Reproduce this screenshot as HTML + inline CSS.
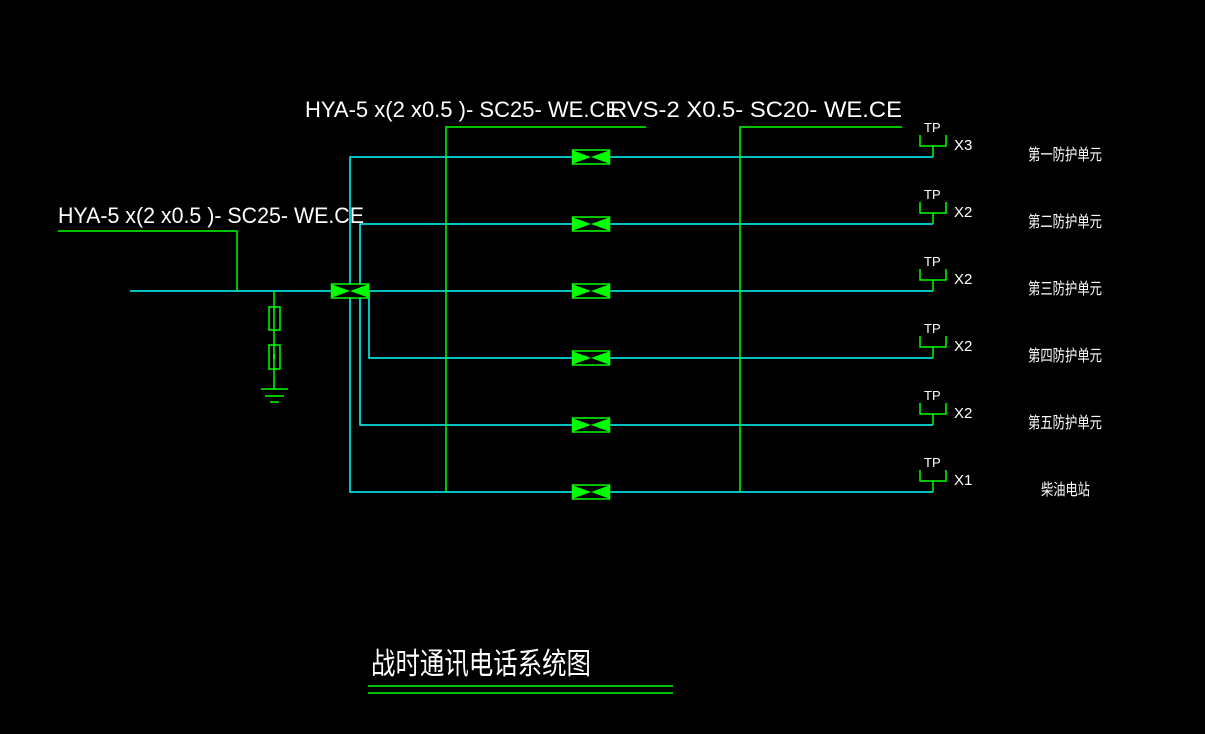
<!DOCTYPE html>
<html><head><meta charset="utf-8"><style>
html,body{margin:0;padding:0;background:#000;width:1205px;height:734px;overflow:hidden}
svg text{font-family:"Liberation Sans","Noto Sans CJK SC",sans-serif;fill:#fff}
</style></head><body>
<svg width="1205" height="734" viewBox="0 0 1205 734">
<defs>
<g id="v">
<rect x="-18.5" y="-7" width="37" height="14" fill="#000" stroke="#00ff00" stroke-width="1.5"/>
<polygon points="-18,-6.5 0,0 -18,6.5" fill="#00ff00"/>
<polygon points="18,-6.5 0,0 18,6.5" fill="#00ff00"/>
</g>
<g id="tp">
<polyline points="-13,-12 -13,-1 13,-1 13,-12" fill="none" stroke="#00ff00" stroke-width="1.5"/>
<line x1="0" y1="-1" x2="0" y2="10" stroke="#00ff00" stroke-width="1.5"/>
<text x="-9" y="-15" font-size="13">TP</text>
</g>
</defs>
<g stroke="#00ffff" stroke-width="1.5" fill="none">
<line x1="130" y1="291" x2="933" y2="291"/>
<polyline points="933,157 350,157 350,492 933,492"/>
<polyline points="933,224 360,224 360,425 933,425"/>
<polyline points="369,291 369,358 933,358"/>
</g>
<g stroke="#00ff00" stroke-width="1.5" fill="none">
<polyline points="58,231 237,231 237,291"/>
<polyline points="646,127 446,127 446,492"/>
<polyline points="902,127 740,127 740,492"/>
<line x1="274" y1="291" x2="274" y2="389"/>
<rect x="269" y="307" width="11" height="23"/>
<rect x="269" y="345" width="11" height="24"/>
<line x1="261" y1="389" x2="288" y2="389"/>
<line x1="265" y1="396" x2="284" y2="396"/>
<line x1="270" y1="402" x2="279" y2="402"/>
<line x1="368" y1="686" x2="673" y2="686"/>
<line x1="368" y1="693" x2="673" y2="693"/>
</g>
<rect x="273" y="354" width="2" height="5" fill="#00ff00"/>
<use href="#v" x="591" y="157"/>
<use href="#v" x="591" y="224"/>
<use href="#v" x="591" y="291"/>
<use href="#v" x="591" y="358"/>
<use href="#v" x="591" y="425"/>
<use href="#v" x="591" y="492"/>
<use href="#v" x="350" y="291"/>
<use href="#tp" x="933" y="147"/>
<use href="#tp" x="933" y="214"/>
<use href="#tp" x="933" y="281"/>
<use href="#tp" x="933" y="348"/>
<use href="#tp" x="933" y="415"/>
<use href="#tp" x="933" y="482"/>
<g font-size="15">
<text x="954" y="150">X3</text>
<text x="954" y="217">X2</text>
<text x="954" y="284">X2</text>
<text x="954" y="351">X2</text>
<text x="954" y="418">X2</text>
<text x="954" y="485">X1</text>
</g>
<g font-size="16">
<text x="1028" y="160" textLength="74" lengthAdjust="spacingAndGlyphs">第一防护单元</text>
<text x="1028" y="227" textLength="74" lengthAdjust="spacingAndGlyphs">第二防护单元</text>
<text x="1028" y="294" textLength="74" lengthAdjust="spacingAndGlyphs">第三防护单元</text>
<text x="1028" y="361" textLength="74" lengthAdjust="spacingAndGlyphs">第四防护单元</text>
<text x="1028" y="428" textLength="74" lengthAdjust="spacingAndGlyphs">第五防护单元</text>
<text x="1041" y="495" textLength="49" lengthAdjust="spacingAndGlyphs">柴油电站</text>
</g>
<g font-size="22">
<text x="305" y="117" textLength="315" lengthAdjust="spacingAndGlyphs">HYA-5 x(2 x0.5 )- SC25- WE.CE</text>
<text x="610" y="117" textLength="292" lengthAdjust="spacingAndGlyphs">RVS-2 X0.5- SC20- WE.CE</text>
<text x="58" y="223" textLength="306" lengthAdjust="spacingAndGlyphs">HYA-5 x(2 x0.5 )- SC25- WE.CE</text>
</g>
<text x="371" y="674" font-size="30" textLength="220" lengthAdjust="spacingAndGlyphs">战时通讯电话系统图</text>
</svg>
</body></html>
